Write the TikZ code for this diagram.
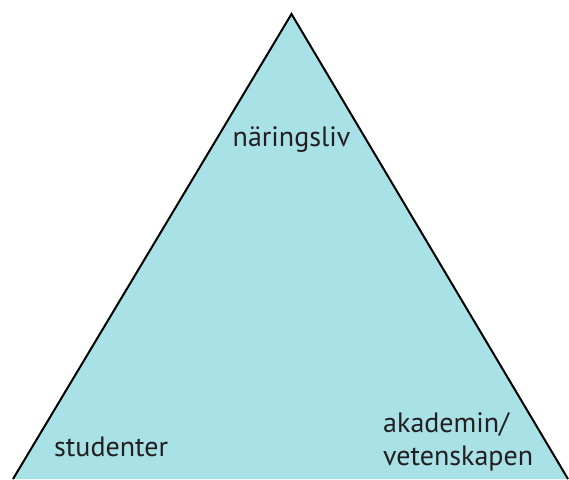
\documentclass[tikz,border=0pt]{standalone}
\usepackage{fontspec}
\setmainfont{PT Sans}
\usetikzlibrary{calc}

\definecolor{turkos}{RGB}{168,225,230}
\definecolor{textgray}{RGB}{35,31,32}

\begin{document}
\begin{tikzpicture}[x=1pt,y=1pt,
  etikett/.style={text=textgray, font=\fontsize{28}{33}\selectfont, inner sep=0pt}]

\useasboundingbox (0,0) rectangle (569,479);
\clip (0,0) rectangle (569,479);

\coordinate (A) at (291.5,465);
\coordinate (L) at (13,0);
\coordinate (R) at (568,0);

\fill[turkos] (L) -- (A) -- (R) -- cycle;
\draw[line width=2pt, line join=miter] (L) -- (A) -- (R);

\node[etikett, anchor=base] (top) at (291.5,332) {näringsliv};
\node[etikett, anchor=base west] (left) at (54,23) {studenter};
\node[etikett, anchor=base west, align=left] (right) at (383,14) {akademin/\\vetenskapen};

\end{tikzpicture}
\end{document}
